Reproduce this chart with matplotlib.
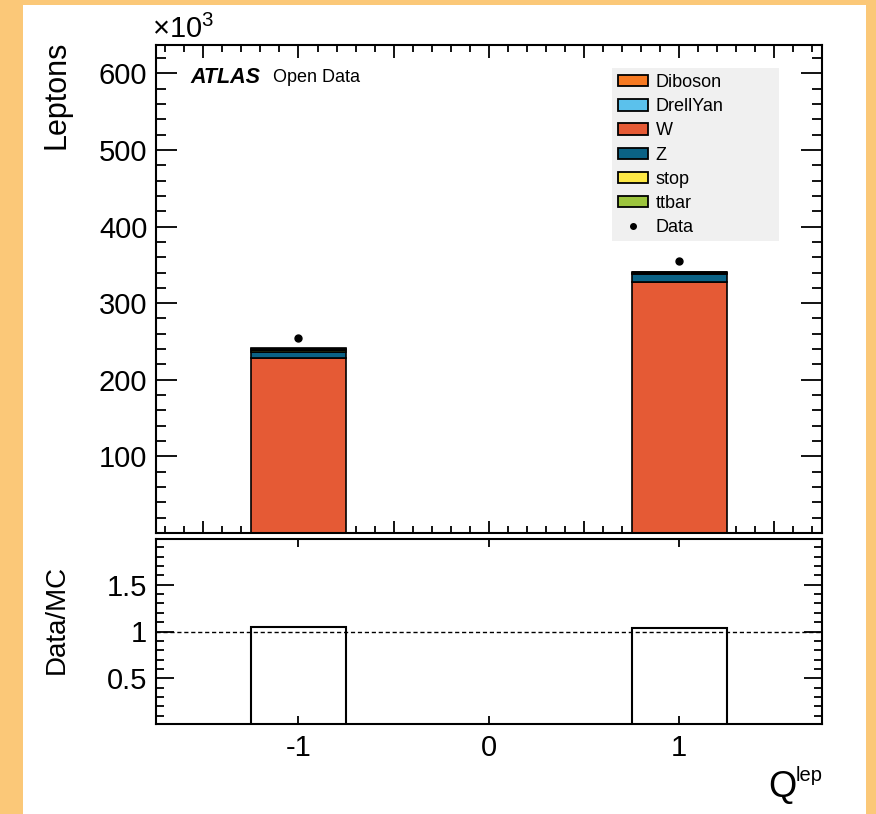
import numpy as np
import matplotlib
matplotlib.use('Agg')
import matplotlib.pyplot as plt
from matplotlib.patches import Patch, Rectangle
from matplotlib.lines import Line2D
from matplotlib.ticker import MultipleLocator

plt.rcParams['font.family'] = ['Liberation Sans', 'DejaVu Sans']
plt.rcParams['mathtext.fontset'] = 'custom'
plt.rcParams['mathtext.rm'] = 'Liberation Sans'
plt.rcParams['mathtext.it'] = 'Liberation Sans:italic'
plt.rcParams['axes.unicode_minus'] = False

# lepton charge bins
charge = [-1, 1]
bin_width = 0.5

# MC samples (leptons per bin)
W = [228500, 327100]
Z = [7800, 10400]
ttbar = [2000, 1300]
stop = [500, 400]
drellyan = [2000, 1100]
diboson = [800, 600]

# observed data
data = [253900, 354900]

colors = {'Diboson': '#f77a22', 'DrellYan': '#5bc1ec', 'W': '#e55a35',
          'Z': '#0b6285', 'stop': '#fde845', 'ttbar': '#9cc43d'}

stack = [('W', W), ('Z', Z), ('ttbar', ttbar), ('stop', stop),
         ('DrellYan', drellyan), ('Diboson', diboson)]
legend_order = ['Diboson', 'DrellYan', 'W', 'Z', 'stop', 'ttbar']

fig = plt.figure(figsize=(8.76, 8.14), dpi=100)
fig.patch.set_facecolor('#fbc878')
fig.patches.append(Rectangle((23/876, 0), (866-23)/876, (814-5)/814,
                             transform=fig.transFigure, facecolor='white',
                             edgecolor='none', zorder=-10))

ax = fig.add_axes([155.7/876, (814-533)/814, (822-155.7)/876, (533-45)/814])
rax = fig.add_axes([155.7/876, (814-724)/814, (822-155.7)/876, (724-539)/814])

# stacked MC
bottom = np.zeros(len(charge))
for name, vals in stack:
    v = np.array(vals) / 1e3
    ax.bar(charge, v, width=bin_width, bottom=bottom, color=colors[name],
           edgecolor='black', linewidth=1.2, zorder=2)
    bottom = bottom + v
mc_total = bottom * 1e3

ax.plot(charge, np.array(data) / 1e3, 'o', color='black', markersize=5, zorder=3)

ax.set_xlim(-1.75, 1.75)
ax.set_ylim(0, 637)
ax.set_yticks([100, 200, 300, 400, 500, 600])
ax.yaxis.set_minor_locator(MultipleLocator(20))
ax.xaxis.set_major_locator(MultipleLocator(0.5))
ax.xaxis.set_minor_locator(MultipleLocator(0.1))
ax.tick_params(axis='both', which='both', direction='in', top=True, right=True,
               labelbottom=False, width=1.3)
ax.tick_params(axis='y', which='major', length=15, labelsize=21, pad=6)
ax.tick_params(axis='y', which='minor', length=7.5)
ax.tick_params(axis='x', which='major', length=9)
ax.tick_params(axis='x', which='minor', length=5)
for s in ax.spines.values():
    s.set_linewidth(1.5)

ax.text(-0.006, 1.002, '×10$^{3}$', transform=ax.transAxes, ha='left',
        va='bottom', fontsize=21)
ax.text(0.0515, 0.934, 'ATLAS', transform=ax.transAxes, fontsize=15.5,
        fontweight='bold', fontstyle='italic', va='center')
ax.text(0.1755, 0.934, 'Open Data', transform=ax.transAxes, fontsize=13,
        va='center')

# legend
ax.add_patch(Rectangle((0.685, 0.598), 0.2505, 0.355, transform=ax.transAxes,
                       facecolor='#f0f0f0', edgecolor='none', zorder=1))
handles = [Patch(facecolor=colors[n], edgecolor='black', linewidth=1.3)
           for n in legend_order]
handles.append(Line2D([], [], marker='o', color='black', linestyle='none',
                      markersize=4))
ax.legend(handles, legend_order + ['Data'], loc='upper left',
          bbox_to_anchor=(0.688, 0.948), frameon=False, fontsize=13,
          borderpad=0.2, borderaxespad=0, handlelength=1.65, handleheight=0.6,
          labelspacing=0.4, handletextpad=0.45)

# ratio panel
ratio = np.array(data) / mc_total
rax.bar(charge, ratio, width=bin_width, fill=False, edgecolor='black',
        linewidth=1.5, zorder=2)
rax.axhline(1, color='black', linestyle='--', linewidth=1, dashes=(3, 2), zorder=1)
rax.set_xlim(-1.75, 1.75)
rax.set_ylim(0.01, 1.99)
rax.set_xticks([-1, 0, 1])
rax.set_xticklabels(['-1', '0', '1'])
rax.set_yticks([0.5, 1, 1.5])
rax.set_yticklabels(['0.5', '1', '1.5'])
rax.yaxis.set_minor_locator(MultipleLocator(0.1))
rax.tick_params(axis='both', which='both', direction='in', top=True, right=True,
                width=1.3)
rax.tick_params(axis='y', which='major', length=13, labelsize=21, pad=6)
rax.tick_params(axis='y', which='minor', length=6)
rax.tick_params(axis='x', which='major', length=6, labelsize=21, pad=7)
for s in rax.spines.values():
    s.set_linewidth(1.5)

fig.text(57/876, (814-41)/814, 'Leptons', rotation=90, ha='center', va='top',
         fontsize=22)
fig.text(57/876, (814-619)/814, 'Data/MC', rotation=90, ha='center',
         va='center', fontsize=20)
fig.text(796/876, (814-797)/814, 'Q', ha='right', va='baseline', fontsize=26)
fig.text(796/876, (814-781)/814, 'lep', ha='left', va='baseline', fontsize=14.5)

fig.savefig('out.png', dpi=100, facecolor=fig.get_facecolor())
